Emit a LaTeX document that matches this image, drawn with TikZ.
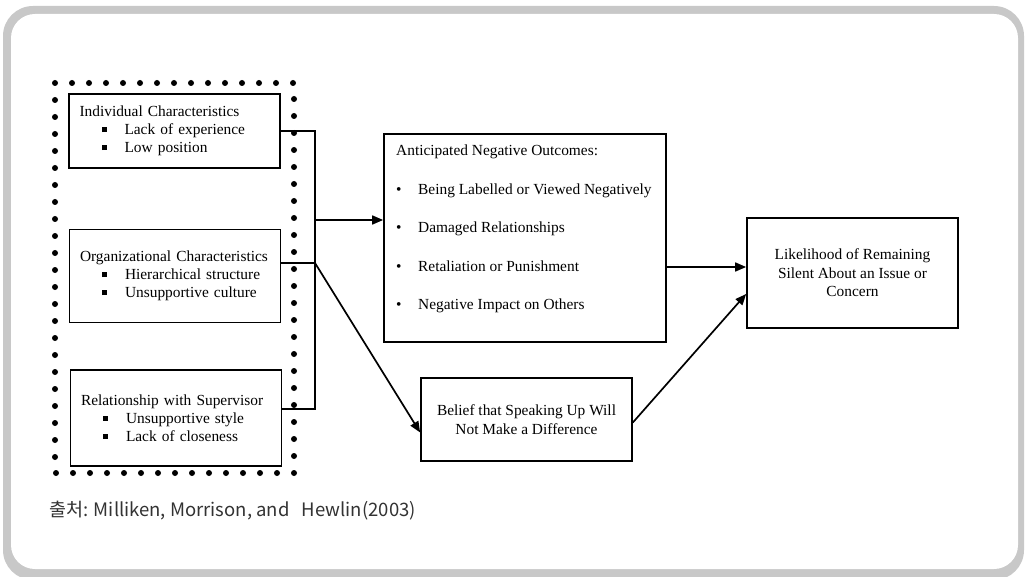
\documentclass[tikz,border=0pt]{standalone}
\usepackage{fontspec}
\setmainfont{Liberation Serif}
\newfontfamily\cjk{Noto Sans CJK KR}
\usepackage{xcolor}
\usepackage{tikz}
\usetikzlibrary{arrows.meta, positioning}

\definecolor{framegray}{HTML}{C8C8C8}
\definecolor{captiongray}{HTML}{333333}
\newcommand{\sqbul}{\hspace*{22pt}\rule[2.5pt]{5pt}{5pt}\hspace*{18pt}}
\newcommand{\rdbul}{\makebox[22pt][l]{\textbullet}}

\begin{document}
\begin{tikzpicture}[
    x=1pt, y=-1pt,
    factor/.style={rectangle, draw=black, line width=1.7pt, minimum width=211pt, align=left, text width=190pt, inner xsep=10.5pt, font=\fontsize{15.4}{18}\selectfont},
    outcome/.style={rectangle, draw=black, line width=1.7pt, minimum width=211pt, align=center, font=\fontsize{15.4}{18.5}\selectfont},
    link/.style={line width=1.7pt},
    arrow/.style={line width=1.7pt,->,>={Triangle[length=11pt,width=9pt]}}
]
\useasboundingbox (0,0) rectangle (1027,577);

% Frame
\fill[framegray, rounded corners=30pt] (3,6) rectangle (1024,580);
\fill[white, rounded corners=24pt] (11,14) rectangle (1018,569);

% Antecedents
\draw[line width=6pt, line cap=round, dash pattern=on 0pt off 17pt] (55,83) rectangle (294,473);
\node (indiv) [factor, minimum height=74pt] at (174.5,131) {Individual Characteristics\\ \sqbul Lack of experience\\ \sqbul Low position};
\node (org) [factor, minimum height=93pt] at (175,276) {Organizational Characteristics\\ \sqbul Hierarchical structure\\ \sqbul Unsupportive culture};
\node (rel) [factor, minimum height=96pt] at (176,418) {Relationship with Supervisor\\ \sqbul Unsupportive style\\ \sqbul Lack of closeness};

% Outcomes
\node (antic) [rectangle, draw=black, line width=1.7pt, minimum width=282pt, minimum height=208pt] at (525,238) {};
\node (anticlist) [anchor=north west, inner sep=0pt, align=left, font=\fontsize{15.4}{38.5}\selectfont] at (396,145) {Anticipated Negative Outcomes:\\ \rdbul Being Labelled or Viewed Negatively\\ \rdbul Damaged Relationships\\ \rdbul Retaliation or Punishment\\ \rdbul Negative Impact on Others};
\node (belief) [outcome, minimum height=83pt] at (526.5,419.5) {Belief that Speaking Up Will\\ Not Make a Difference};
\node (likely) [outcome, minimum height=110pt] at (852.5,273) {Likelihood of Remaining\\ Silent About an Issue or\\ Concern};

% Caption
\node (src) [anchor=west, inner sep=0pt, text=captiongray, font=\cjk\fontsize{18.5}{22}\selectfont] at (49,511) {출처: Milliken, Morrison, and~~~Hewlin(2003)};

% Connectors
\coordinate (jt) at (315,131);
\coordinate (jm) at (315,220);
\coordinate (jn) at (315,263);
\coordinate (jb) at (315,409);
\coordinate (ao) at ([yshift=-29pt]antic.east);
\draw[link] (indiv.east) -- (jt) -- (jb) -- (rel.east |- jb);
\draw[link] (org.east |- jn) -- (jn);
\draw[arrow] (jm) -- (antic.west |- jm);
\draw[arrow] (jn) -- ([yshift=-13pt]belief.west);
\draw[arrow] (ao) -- (likely.west |- ao);
\draw[arrow] ([yshift=-3pt]belief.east) -- ([yshift=-21pt]likely.west);

\end{tikzpicture}
\end{document}
